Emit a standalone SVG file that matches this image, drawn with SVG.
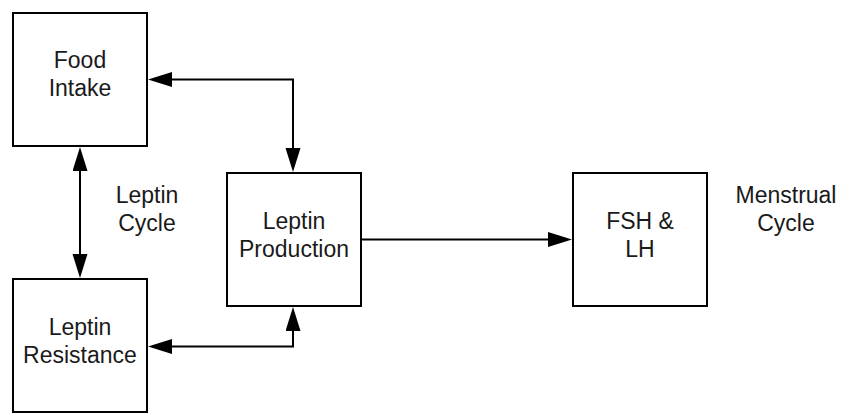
<svg xmlns="http://www.w3.org/2000/svg" width="842" height="414" viewBox="0 0 842 414">
<style>
.box{fill:#ffffff;stroke:#000000;stroke-width:2}
.lbl{font-family:"Liberation Sans",Arial,sans-serif;font-size:23px;fill:#1a1a1a;text-anchor:middle}
.conn{fill:none;stroke:#000000;stroke-width:2}
</style>
<defs>
<marker id="ah" markerUnits="userSpaceOnUse" markerWidth="25" markerHeight="16" refX="0" refY="7.5" orient="auto-start-reverse">
<path d="M0,0 L24,7.5 L0,15 Z" fill="#000000"/>
</marker>
</defs>
<rect width="842" height="414" fill="#ffffff"/>
<g id="connectors">
<path class="conn" d="M172,79.5 H293 V148" marker-start="url(#ah)" marker-end="url(#ah)"/>
<path class="conn" d="M80,171 V254" marker-start="url(#ah)" marker-end="url(#ah)"/>
<path class="conn" d="M172,346.5 H293 V331" marker-start="url(#ah)" marker-end="url(#ah)"/>
<path class="conn" d="M361,239.5 H548" marker-end="url(#ah)"/>
</g>
<g id="food-intake">
<rect class="box" x="13" y="13" width="134" height="133"/>
<text class="lbl" x="80" y="68">Food</text>
<text class="lbl" x="80" y="96">Intake</text>
</g>
<g id="leptin-resistance">
<rect class="box" x="13" y="279" width="134" height="133"/>
<text class="lbl" x="80" y="335">Leptin</text>
<text class="lbl" x="80" y="363">Resistance</text>
</g>
<g id="leptin-production">
<rect class="box" x="227" y="173" width="134" height="133"/>
<text class="lbl" x="294" y="229">Leptin</text>
<text class="lbl" x="294" y="257">Production</text>
</g>
<g id="fsh-lh">
<rect class="box" x="573" y="173" width="134" height="133"/>
<text class="lbl" x="640" y="229">FSH &amp;</text>
<text class="lbl" x="640" y="257">LH</text>
</g>
<g id="leptin-cycle">
<text class="lbl" x="147" y="203">Leptin</text>
<text class="lbl" x="147" y="231">Cycle</text>
</g>
<g id="menstrual-cycle">
<text class="lbl" x="786" y="203">Menstrual</text>
<text class="lbl" x="786" y="231">Cycle</text>
</g>
</svg>
